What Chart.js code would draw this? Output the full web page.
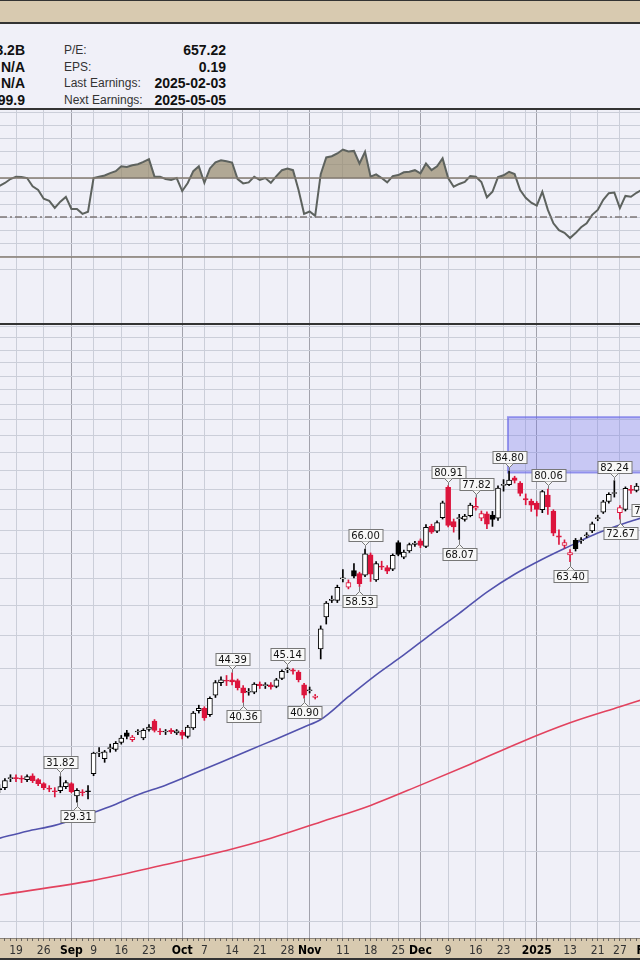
<!DOCTYPE html>
<html>
<head>
<meta charset="utf-8">
<script src="https://cdn.jsdelivr.net/npm/chart.js@4.4.1/dist/chart.umd.min.js"></script>
<style>
  body { margin: 0; width: 640px; height: 960px; overflow: hidden; background: #f0f0f8; position: relative;
         font-family: "Liberation Sans", Arial, sans-serif; }
  #hdr { position: absolute; left: 0; top: 0; width: 640px; height: 21px; background: #d8cab0;
         border-top: 1px solid #333; border-bottom: 2px solid #333; }
  #info { position: absolute; left: 0; top: 24px; width: 640px; height: 84px; background: #f0f0f8;
          border-bottom: 2px solid #333; }
  .r { position: absolute; height: 16px; line-height: 16px; white-space: nowrap; }
  .v { font-weight: bold; font-size: 14px; color: #111; text-align: right; }
  .l { font-size: 12px; color: #333; }
  #sep { position: absolute; left: 0; top: 323px; width: 640px; height: 2px; background: #333; }
  canvas { position: absolute; left: 0; }
</style>
</head>
<body>
<div id="hdr"></div>
<div id="info"></div>
<canvas id="rsi" width="640" height="213" style="top:110px"></canvas>
<div id="sep"></div>
<canvas id="main" width="640" height="635" style="top:325px"></canvas>
<script>
// summary box
var leftVals = ['293.2B', 'N/A', 'N/A', '99.9'];
var infoLabels = ['P/E:', 'EPS:', 'Last Earnings:', 'Next Earnings:'];
var infoVals = ['657.22', '0.19', '2025-02-03', '2025-05-05'];

// trading day index, 0 = Aug 19 2024
var firstIdx = -3;
var prevClose = 30.3;
var opens = [30.6,30.7,31.6,31.7,31.6,31.5,31.9,31.5,31.1,30.6,30.4,30.4,30.8,31.1,29.9,30.3,30.4,
  32.1,34.3,33.7,34.8,34.7,35.5,36.6,35.8,36.7,36.0,37.0,38.0,36.8,36.7,36.9,36.6,36.7,36.2,37.2,39.3,39.6,38.8,41.3,43.0,43.3,43.4,43.3,42.3,41.7,41.7,42.8,42.6,42.7,42.5,43.6,44.8,44.8,44.5,42.7,41.9,41.0,
  47.9,53.1,56.0,56.0,60.0,58.4,61.6,61.0,60.7,64.8,59.8,62.5,62.2,61.9,67.4,64.3,65.6,67.0,67.8,66.6,71.0,69.9,73.0,80.5,72.1,72.8,72.6,73.5,75.3,72.9,73.9,73.6,72.9,81.0,81.2,83.0,81.6,77.6,77.0,76.5,74.9,78.5,74.6,68.9,66.8,64.8,67.9,67.8,68.9,70.0,72.8,74.3,76.9,78.9,74.2,75.0,79.9,79.7];
var highs = [31.0,31.6,32.0,32.0,31.9,32.0,32.1,31.6,31.2,30.9,30.7,31.82,31.4,31.2,30.6,30.5,30.9,
  34.4,34.9,34.6,35.3,35.6,36.3,36.9,36.3,37.0,37.1,37.6,38.2,37.1,37.0,37.1,37.0,36.9,37.5,39.2,40.0,39.8,41.1,43.3,43.8,44.0,44.39,43.5,42.6,42.2,43.0,43.1,43.0,43.0,43.6,44.8,45.14,45.0,44.7,42.9,42.4,41.4,
  51.6,55.8,56.8,58.8,61.8,59.8,63.0,61.3,66.0,65.2,63.4,63.5,62.6,65.0,67.8,65.8,67.3,67.7,68.2,71.4,71.5,72.3,77.0,80.91,72.7,73.8,73.8,76.5,77.82,74.6,74.4,74.5,80.9,82.5,84.8,83.4,82.0,78.8,77.5,76.9,79.7,80.06,74.9,70.2,68.0,65.9,68.3,68.5,69.6,72.0,73.6,77.2,79.1,82.24,75.9,80.6,81.0,81.5];
var lows = [30.2,30.5,31.3,31.3,31.2,31.3,31.2,30.9,30.5,30.3,29.8,30.2,30.6,30.2,29.31,29.9,29.6,
  31.9,33.9,33.3,34.4,34.5,35.3,35.9,35.6,36.4,35.8,36.8,36.7,36.4,36.4,36.5,36.4,35.9,36.0,37.0,39.0,38.1,38.6,41.0,42.6,42.6,42.7,42.0,40.36,41.3,41.5,42.2,42.2,42.1,42.3,43.4,44.4,44.2,43.1,40.9,41.6,40.8,
  46.4,51.9,55.6,55.6,59.4,58.1,60.2,58.53,60.4,59.5,59.5,61.8,61.0,61.6,64.6,64.0,65.3,66.6,66.3,66.3,69.4,69.6,72.7,70.9,69.7,68.07,72.2,73.2,74.8,72.3,70.5,71.0,72.4,79.5,80.9,81.6,78.3,76.1,74.5,73.4,74.2,73.8,68.9,67.0,66.2,63.4,65.6,67.2,68.5,69.6,72.3,74.0,76.5,78.0,72.67,74.6,78.9,79.3];
var closes = [30.5,31.4,31.7,31.6,31.55,31.8,31.4,31.1,30.7,30.55,30.3,30.8,31.2,30.3,30.45,30.2,30.3,
  34.3,34.35,34.45,34.85,35.4,36.0,36.2,36.1,36.75,36.9,37.3,36.9,36.7,36.75,36.7,36.85,36.3,37.3,39.0,39.6,38.4,40.9,43.0,43.4,43.2,43.1,42.3,41.6,41.8,42.8,42.6,42.7,42.4,43.4,44.6,44.9,44.6,43.4,41.3,42.0,41.2,
  51.1,55.5,56.2,58.4,60.1,59.3,60.5,59.1,65.0,60.9,63.0,62.3,61.5,64.7,64.9,65.4,67.0,67.3,66.8,70.8,69.7,71.9,76.6,71.2,70.9,73.0,73.4,76.0,75.7,74.0,71.5,72.6,80.3,81.2,82.4,82.3,78.9,77.3,76.0,75.0,79.4,75.6,69.5,68.6,67.4,65.3,66.1,67.9,69.0,71.6,73.0,76.8,78.7,79.1,75.4,80.2,79.7,80.8];

// moving averages
var maFastIdx = [-3, 2, 7, 12, 17, 22, 27, 32, 37, 42, 47, 52, 55, 60, 65, 70, 75, 80, 85, 90, 95, 100, 105, 110, 113];
var maFast = [26.1, 26.7, 27.2, 28.0, 28.9, 30.0, 30.95, 32.1, 33.3, 34.6, 35.9, 37.3, 38.2, 41.1, 44.1, 47.0, 50.3, 53.7, 57.5, 60.9, 63.9, 66.7, 69.5, 71.8, 73.0];
var maSlowIdx = [-3, 14, 26, 38, 46, 55, 64, 73, 82, 91, 100, 109, 113];
var maSlow = [21.75, 22.8, 23.9, 25.1, 26.1, 27.5, 29.0, 30.95, 33.1, 35.5, 37.8, 39.8, 40.7];

// RSI, one value per day from firstIdx
var rsi = [66,67.5,69.5,70.7,70.5,70,65.8,64,59.5,58.4,54.8,58,60.4,54.3,54.3,51.8,52.9,
  70,70.7,71.3,72.5,73.5,76,75.6,76.5,77,78.2,79.6,70.7,70.7,69.5,69,70,63.4,67.5,73.5,76,67.6,74.9,78,79,78.5,77.9,69.5,67.3,67.8,70.7,69,70,67.6,71,74,74.8,74,63.9,51.8,53,50.8,
  72,80.5,81.1,82.5,84.5,83.5,83.8,77.4,83.3,70.7,71.9,70,67.8,71,71.5,72.9,73.2,74,72.4,77.4,74,76,80,70,65.6,67,68,71,70.7,68,60.2,63,70.5,71.4,73.2,72,63.9,60,57.5,56,63,53.8,47,43.5,42.2,39.5,42,45,47,51.3,53.8,58.9,62.3,62.6,54.7,60.9,60.5,62.5,64];
var rsiLevels = [70, 30];
var rsiMid = 50;

// high / low callouts
var hlIdx = [8, 11, 39, 41, 49, 52, 62, 63, 78, 80, 83, 89, 96, 100, 108, 109, 114];
var hlVal = [31.82, 29.31, 44.39, 40.36, 45.14, 40.90, 58.53, 66.00, 80.91, 68.07, 77.82, 84.80, 80.06, 63.40, 82.24, 72.67, 78.26];
var hlSide = ['H','L','H','L','H','L','L','H','H','L','H','H','H','L','H','L','L'];

// shaded zone
var zoneX = [88.8, 130];
var zoneY = [84.4, 100.8];

// x axis
var weekIdx = [0,5,10,14,19,24,30,34,39,44,49,53,59,64,69,73,78,83,88,92,94,100,105,109,114];
var weekLabels = ['19','26','Sep','9','16','23','Oct','7','14','21','28','Nov','11','18','25','Dec','9','16','23','','2025','13','21','27','Feb'];
var monthIdx = [10,30,53,73,94,114];
var xMin = -2.888, xMax = 112.63;

var priceGrid = [20,25,30,35,40,45,50,55,60,65,70,75,80,85,90,95,100,105,110,115,120,125,130,135];
var rsiGrid = [];
for (var k = -1; k <= 15; k++) rsiGrid.push(30 + k * 20 / 3);

// ---- info box
var info = document.getElementById('info');
leftVals.forEach(function (t, i) {
  var cy = [26, 43, 59, 76][i];
  info.insertAdjacentHTML('beforeend',
    '<div class="r v" style="right:615px;top:' + (cy - 8) + 'px">' + t + '</div>' +
    '<div class="r l" style="left:64px;top:' + (cy - 8) + 'px">' + infoLabels[i] + '</div>' +
    '<div class="r v" style="right:414px;top:' + (cy - 8) + 'px">' + infoVals[i] + '</div>');
});

// ---- candles
var idxs = [];
for (var i = 0; i < opens.length; i++) idxs.push(firstIdx + i);

var RED = '#dc143c', BLACK = '#000000';
var candleColor = closes.map(function (c, i) {
  var p = i === 0 ? prevClose : closes[i - 1];
  return c >= p ? BLACK : RED;
});
var bodyFill = closes.map(function (c, i) {
  return c >= opens[i] ? '#ffffff' : candleColor[i];
});

var gridColor = '#cbced9';
function vGrid(ctx) {
  var v = ctx.tick ? ctx.tick.value : null;
  if (monthIdx.indexOf(v) >= 0) return '#a2a2ac';
  if (weekIdx.indexOf(v) >= 0) return gridColor;
  return 'rgba(0,0,0,0)';
}
var dayTicks = [];
for (var d = -2; d <= 114; d++) dayTicks.push(d);

var tickFont = '"Liberation Sans Narrow", "DejaVu Sans Condensed", "Liberation Sans", sans-serif';

var bgPlugin = {
  id: 'bg',
  beforeDraw: function (chart) {
    var c = chart.ctx, a = chart.chartArea;
    c.save();
    c.fillStyle = '#f0f0f8';
    c.fillRect(0, 0, chart.width, chart.height);
    if (chart.canvas.id === 'main') {
      c.fillStyle = '#d8cab0';
      c.fillRect(0, a.bottom, chart.width, chart.height - a.bottom);
      c.fillStyle = '#333';
      c.fillRect(0, chart.height - 2, chart.width, 2);
      c.fillStyle = '#8a8278';
      c.fillRect(0, a.bottom, chart.width, 1);
    }
    c.restore();
  }
};

var zonePlugin = {
  id: 'zone',
  beforeDatasetsDraw: function (chart) {
    var c = chart.ctx, x = chart.scales.x, y = chart.scales.y;
    var x0 = x.getPixelForValue(zoneX[0]), x1 = x.getPixelForValue(zoneX[1]);
    var y0 = y.getPixelForValue(zoneY[1]), y1 = y.getPixelForValue(zoneY[0]);
    c.save();
    c.fillStyle = 'rgba(110,110,235,0.3)';
    c.fillRect(x0, y0, x1 - x0, y1 - y0);
    c.strokeStyle = 'rgba(105,105,230,0.65)';
    c.lineWidth = 2;
    c.strokeRect(x0, y0, x1 - x0, y1 - y0);
    c.restore();
  }
};

var hlPlugin = {
  id: 'hl',
  afterDatasetsDraw: function (chart) {
    var c = chart.ctx, x = chart.scales.x, y = chart.scales.y;
    c.save();
    c.font = '10px "DejaVu Sans", sans-serif';
    c.textAlign = 'center';
    c.textBaseline = 'middle';
    c.lineWidth = 1;
    hlIdx.forEach(function (i, k) {
      var cx = Math.round(x.getPixelForValue(i)) + 0.5;
      var py = y.getPixelForValue(hlVal[k]);
      var txt = hlVal[k].toFixed(2);
      var w = Math.round(c.measureText(txt).width) + 5, h = 12;
      var up = hlSide[k] === 'H';
      var by = up ? Math.round(py - 8 - h) + 0.5 : Math.round(py + 8) + 0.5;
      var bx = Math.round(cx - w / 2);
      var ty = up ? by + h : by, dir = up ? 1 : -1;
      c.strokeStyle = '#777';
      c.beginPath();
      c.moveTo(cx, ty + dir * 4);
      c.lineTo(cx, py);
      c.stroke();
      c.fillStyle = '#f8f8f8';
      c.fillRect(bx, by, w, h);
      c.strokeRect(bx, by, w, h);
      c.beginPath();
      c.moveTo(cx - 4, ty);
      c.lineTo(cx, ty + dir * 4);
      c.lineTo(cx + 4, ty);
      c.fill();
      c.stroke();
      c.fillStyle = '#111';
      c.fillText(txt, cx, by + h / 2 + 0.5);
    });
    c.restore();
  }
};

var rsiLinesPlugin = {
  id: 'rsiLines',
  afterDatasetsDraw: function (chart) {
    var c = chart.ctx, y = chart.scales.y, a = chart.chartArea;
    c.save();
    c.lineWidth = 1.5;
    c.strokeStyle = '#857b70';
    rsiLevels.forEach(function (v) {
      var py = Math.round(y.getPixelForValue(v));
      c.beginPath(); c.moveTo(a.left, py); c.lineTo(a.right, py); c.stroke();
    });
    var pm = Math.round(y.getPixelForValue(rsiMid));
    c.strokeStyle = '#7d7777';
    c.setLineDash([7, 3, 2, 3]);
    c.beginPath(); c.moveTo(a.left, pm); c.lineTo(a.right, pm); c.stroke();
    c.restore();
  }
};

function xScale(showLabels) {
  return {
    type: 'linear', min: xMin, max: xMax, bounds: 'data', offset: false,
    border: { display: false },
    grid: { offset: false, color: vGrid, lineWidth: 1, drawTicks: showLabels, tickLength: 3, tickColor: '#6a6560' },
    ticks: {
      display: showLabels, autoSkip: false, maxRotation: 0, padding: 3,
      callback: function (v) { var p = weekIdx.indexOf(v); return p >= 0 ? weekLabels[p] : ''; },
      font: function (ctx) {
        var m = ctx.tick && monthIdx.indexOf(ctx.tick.value) >= 0;
        return { family: tickFont, size: 12, weight: m ? 'bold' : 'normal' };
      },
      color: function (ctx) { return ctx.tick && monthIdx.indexOf(ctx.tick.value) >= 0 ? '#000' : '#333'; }
    },
    afterBuildTicks: function (s) { s.ticks = dayTicks.map(function (v) { return { value: v }; }); },
    afterFit: function (s) { s.height = showLabels ? 22 : 0; s.paddingLeft = 0; s.paddingRight = 0; }
  };
}

// ---- RSI panel
new Chart(document.getElementById('rsi'), {
  type: 'line',
  data: {
    datasets: [{
      data: rsi.map(function (v, i) { return { x: firstIdx + i, y: v }; }),
      borderColor: '#5d625e',
      borderWidth: 2,
      pointRadius: 0,
      tension: 0,
      fill: { target: { value: 70 }, above: 'rgba(148,134,102,0.68)', below: 'rgba(0,0,0,0)' }
    }]
  },
  options: {
    responsive: false, animation: false, devicePixelRatio: 1,
    layout: { padding: 0 },
    plugins: { legend: { display: false }, tooltip: { enabled: false } },
    scales: {
      x: xScale(false),
      y: {
        type: 'linear', position: 'right', min: -3.7, max: 104.6, bounds: 'data',
        border: { display: false },
        grid: { color: gridColor, drawTicks: false },
        ticks: { display: false },
        afterBuildTicks: function (s) { s.ticks = rsiGrid.map(function (v) { return { value: v }; }); },
        afterFit: function (s) { s.width = 0; }
      }
    }
  },
  plugins: [bgPlugin, rsiLinesPlugin]
});

// ---- price panel
new Chart(document.getElementById('main'), {
  type: 'bar',
  data: {
    datasets: [
      {
        data: idxs.map(function (d, i) { return { x: d, y: [opens[i], closes[i]] }; }),
        backgroundColor: bodyFill,
        borderColor: candleColor,
        borderWidth: 1,
        borderSkipped: false,
        barThickness: 5,
        minBarLength: 1,
        grouped: false,
        order: 0
      },
      {
        data: idxs.map(function (d, i) { return { x: d, y: [lows[i], highs[i]] }; }),
        backgroundColor: candleColor,
        borderWidth: 0,
        barThickness: 1,
        grouped: false,
        order: 1
      },
      {
        type: 'line',
        data: maFastIdx.map(function (d, i) { return { x: d, y: maFast[i] }; }),
        borderColor: '#5252ad',
        borderWidth: 1.6,
        pointRadius: 0,
        cubicInterpolationMode: 'monotone',
        order: 2
      },
      {
        type: 'line',
        data: maSlowIdx.map(function (d, i) { return { x: d, y: maSlow[i] }; }),
        borderColor: '#e2425e',
        borderWidth: 1.6,
        pointRadius: 0,
        cubicInterpolationMode: 'monotone',
        order: 3
      }
    ]
  },
  options: {
    responsive: false, animation: false, devicePixelRatio: 1,
    layout: { padding: 0 },
    plugins: { legend: { display: false }, tooltip: { enabled: false } },
    scales: {
      x: xScale(true),
      y: {
        type: 'logarithmic', position: 'right', min: 18.95, max: 135.5, bounds: 'data',
        border: { display: false },
        grid: { color: gridColor, drawTicks: false },
        ticks: { display: false },
        afterBuildTicks: function (s) { s.ticks = priceGrid.map(function (v) { return { value: v }; }); },
        afterFit: function (s) { s.width = 0; }
      }
    }
  },
  plugins: [bgPlugin, zonePlugin, hlPlugin]
});
</script>
</body>
</html>
